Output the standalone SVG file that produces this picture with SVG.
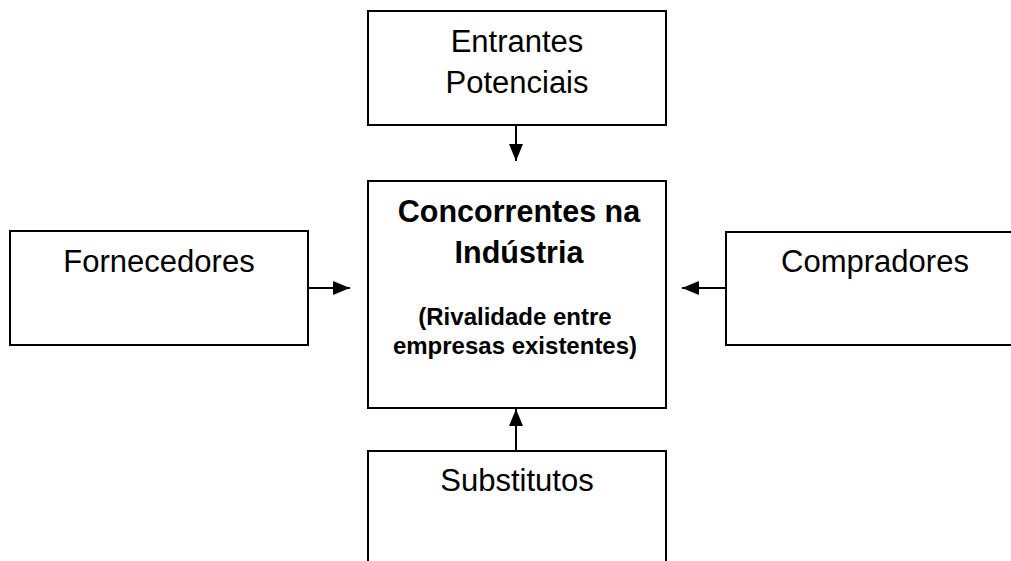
<svg xmlns="http://www.w3.org/2000/svg" width="1011" height="561" viewBox="0 0 1011 561">
<style>
.box{fill:#fff;stroke:#000;stroke-width:2}
.t{font-family:"Liberation Sans",Arial,sans-serif;font-size:31px;fill:#000;text-anchor:middle}
.b{font-family:"Liberation Sans",Arial,sans-serif;font-weight:bold;fill:#000;text-anchor:middle}
.c{stroke:#000;stroke-width:2;fill:none}
</style>
<defs>
<marker id="ah" viewBox="0 0 17 14" refX="17" refY="7" markerWidth="17" markerHeight="14" markerUnits="userSpaceOnUse" orient="auto">
<path d="M0,0 L17,7 L0,14 Z" fill="#000"/>
</marker>
</defs>
<rect width="1011" height="561" fill="#fff"/>
<g id="entrantes">
<rect class="box" x="368" y="11" width="298" height="114"/>
<text class="t" x="517" y="52">Entrantes</text>
<text class="t" x="517" y="93">Potenciais</text>
</g>
<g id="concorrentes">
<rect class="box" x="368" y="181" width="298" height="227"/>
<text class="b" x="519" y="222" font-size="30.5">Concorrentes na</text>
<text class="b" x="519" y="263" font-size="30.5">Indústria</text>
<text class="b" x="515" y="325" font-size="24">(Rivalidade entre</text>
<text class="b" x="515" y="354" font-size="24">empresas existentes)</text>
</g>
<g id="fornecedores">
<rect class="box" x="10" y="231" width="298" height="114"/>
<text class="t" x="159" y="272">Fornecedores</text>
</g>
<g id="compradores">
<rect class="box" x="726" y="232" width="300" height="113"/>
<text class="t" x="875" y="272">Compradores</text>
</g>
<g id="substitutos">
<rect class="box" x="368" y="451" width="298" height="130"/>
<text class="t" x="517" y="491">Substitutos</text>
</g>
<g id="connectors">
<line class="c" x1="516" y1="125" x2="516" y2="161" marker-end="url(#ah)"/>
<line class="c" x1="308" y1="288" x2="350" y2="288" marker-end="url(#ah)"/>
<line class="c" x1="726" y1="288" x2="682" y2="288" marker-end="url(#ah)"/>
<line class="c" x1="516" y1="451" x2="516" y2="409" marker-end="url(#ah)"/>
</g>
</svg>
